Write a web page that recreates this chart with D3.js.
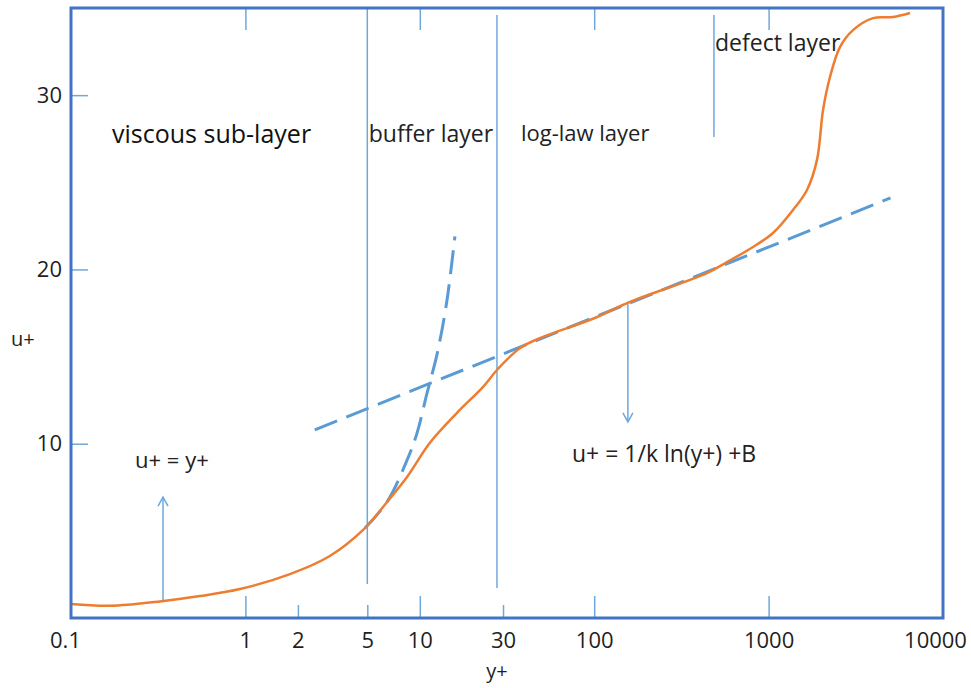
<!DOCTYPE html>
<html>
<head>
<meta charset="utf-8">
<script src="https://cdn.jsdelivr.net/npm/d3@7"></script>
<style>
    body { margin: 0; background: #fff; }
    #chart { width: 971px; height: 688px; }
    text { font-family: "Open Sans", sans-serif; }
</style>
</head>
<body>
<div id="chart"></div>
<script>

// measured velocity profile (y+, u+)
let profileYp = [0.1, 0.167, 0.324, 0.55, 0.93, 1.8, 3.05, 4.85, 6.49, 8.45, 11.4, 16.3, 23.0, 27.7, 37.6, 50,
    100, 160, 443, 577, 814, 1060, 1380, 1660, 1896, 2052, 2249, 2566, 3048, 3970, 5167, 6471];
let profileUp = [0.80, 0.70, 0.95, 1.26, 1.66, 2.52, 3.56, 5.16, 6.66, 8.09, 10.04, 11.76, 13.25, 14.23, 15.49, 16.1,
    17.2, 18.13, 19.79, 20.42, 21.29, 22.09, 23.41, 24.56, 26.3, 29.15, 31.04, 32.76, 33.73, 34.42, 34.48, 34.71];

// u+ = y+ (dashed)
let viscousYp = [4.85, 6.49, 8.45, 9.64, 11.0, 12.6, 14.3, 15.9];
let viscousUp = [5.16, 6.66, 9.06, 10.61, 12.9, 15.2, 18.2, 21.9];

// log law (dashed)
let logLawYp = [2.5, 5000];
let logLawUp = [10.8, 24.1];

// axes
let xTickValues = [0.1, 1, 2, 5, 10, 30, 100, 1000, 10000];
let xMajorTicks = [1, 10, 100, 1000];
let yTickValues = [10, 20, 30];

// layer boundaries: y+, u+ from, u+ to
let boundaries = [[5, 1.95, 35], [27.7, 1.72, 34.6], [486, 27.6, 34.6]];

// labels: text, y+, u+
let layerLabels = [["viscous sub-layer", 0.172, 27.25], ["buffer layer", 5.1, 27.3],
    ["log-law layer", 38, 27.37], ["defect layer", 493, 32.53]];
let formulaLabels = [["u+ = y+", 0.233, 8.6], ["u+ = 1/k ln(y+) +B", 74.6, 8.95]];

// arrows: y+, u+ start, u+ end
let arrows = [[0.337, 0.92, 6.94], [156, 18.1, 11.25]];


class WallLawChart {

    constructor(parentElement) {
        this.parentElement = parentElement;
        this.initVis();
    }

    initVis() {
        let vis = this;

        vis.margin = {top: 8, right: 28, bottom: 70, left: 71};
        vis.width = 971 - vis.margin.left - vis.margin.right;
        vis.height = 688 - vis.margin.top - vis.margin.bottom;

        vis.svg = d3.select("#" + vis.parentElement).append("svg")
            .attr("width", 971)
            .attr("height", 688)
            .append("g")
            .attr("transform", `translate(${vis.margin.left}, ${vis.margin.top})`);

        vis.x = d3.scaleLog()
            .domain([0.1, 10000])
            .range([0, vis.width]);
        vis.y = d3.scaleLinear()
            .domain([0, 35])
            .range([vis.height, 0]);

        vis.svg.append("defs").append("marker")
            .attr("id", "chevron")
            .attr("viewBox", "-11 -7 13 14")
            .attr("markerUnits", "userSpaceOnUse")
            .attr("markerWidth", 13)
            .attr("markerHeight", 14)
            .attr("refX", 0)
            .attr("refY", 0)
            .attr("orient", "auto")
            .append("path")
            .attr("d", "M-9,-5L0,0L-9,5")
            .attr("fill", "none")
            .attr("stroke", "#6fa8dc")
            .attr("stroke-width", 1.5);

        vis.updateVis();
    }

    updateVis() {
        let vis = this;
        let tickColor = "#6fa8dc";

        // bottom axis, ticks pointing inward
        let xAxis = d3.axisBottom(vis.x)
            .tickValues(xTickValues)
            .tickSize(-22)
            .tickPadding(14)
            .tickFormat(d => String(d));
        let xg = vis.svg.append("g")
            .attr("transform", `translate(0, ${vis.height})`)
            .call(xAxis);
        xg.select(".domain").remove();
        xg.selectAll(".tick line")
            .attr("stroke", tickColor)
            .attr("stroke-width", 1.5)
            .attr("y2", d => xMajorTicks.includes(d) ? -22 : (d === 0.1 || d === 10000 ? 0 : -13));
        xg.selectAll(".tick text")
            .attr("fill", "#1f1f1f")
            .attr("font-size", 22)
            .attr("dx", d => d === 0.1 ? -6 : (d === 10000 ? -8 : 0));

        // top ticks
        let xTop = vis.svg.append("g")
            .call(d3.axisTop(vis.x).tickValues(xMajorTicks).tickSize(-22).tickFormat(""));
        xTop.select(".domain").remove();
        xTop.selectAll(".tick line").attr("stroke", tickColor).attr("stroke-width", 1.5);

        // left axis
        let yg = vis.svg.append("g")
            .call(d3.axisLeft(vis.y).tickValues(yTickValues).tickSize(-17).tickPadding(9));
        yg.select(".domain").remove();
        yg.selectAll(".tick line").attr("stroke", tickColor).attr("stroke-width", 1.5);
        yg.selectAll(".tick text").attr("fill", "#1f1f1f").attr("font-size", 22);

        // axis titles
        vis.svg.append("text")
            .attr("x", vis.x(27.7))
            .attr("y", vis.height + 60)
            .attr("text-anchor", "middle")
            .attr("font-size", 20)
            .attr("fill", "#1f1f1f")
            .text("y+");
        vis.svg.append("text")
            .attr("x", -60)
            .attr("y", vis.y(15.6))
            .attr("font-size", 20)
            .attr("fill", "#1f1f1f")
            .text("u+");

        // layer boundaries
        vis.svg.selectAll(".boundary")
            .data(boundaries)
            .enter().append("line")
            .attr("class", "boundary")
            .attr("x1", d => vis.x(d[0]))
            .attr("x2", d => vis.x(d[0]))
            .attr("y1", d => vis.y(d[1]))
            .attr("y2", d => vis.y(d[2]))
            .attr("stroke", tickColor)
            .attr("stroke-width", 1.5);

        // arrows
        vis.svg.selectAll(".arrow")
            .data(arrows)
            .enter().append("line")
            .attr("class", "arrow")
            .attr("x1", d => vis.x(d[0]))
            .attr("x2", d => vis.x(d[0]))
            .attr("y1", d => vis.y(d[1]))
            .attr("y2", d => vis.y(d[2]))
            .attr("stroke", tickColor)
            .attr("stroke-width", 1.5)
            .attr("marker-end", "url(#chevron)");

        // dashed reference laws
        let dashed = d3.line()
            .x(d => vis.x(d[0]))
            .y(d => vis.y(d[1]))
            .curve(d3.curveCatmullRom);
        [d3.zip(viscousYp, viscousUp), d3.zip(logLawYp, logLawUp)].forEach(pts => {
            vis.svg.append("path")
                .datum(pts)
                .attr("d", dashed)
                .attr("fill", "none")
                .attr("stroke", "#5b9bd5")
                .attr("stroke-width", 3)
                .attr("stroke-dasharray", "24,10");
        });

        // velocity profile
        let profile = d3.line()
            .x(d => vis.x(d[0]))
            .y(d => vis.y(d[1]))
            .curve(d3.curveCatmullRom.alpha(0.5));
        vis.svg.append("path")
            .datum(d3.zip(profileYp, profileUp))
            .attr("d", profile)
            .attr("fill", "none")
            .attr("stroke", "#ed7d31")
            .attr("stroke-width", 2.5);

        // labels
        let sizes = [25, 23, 22, 23];
        vis.svg.selectAll(".layerLabel")
            .data(layerLabels)
            .enter().append("text")
            .attr("class", "layerLabel")
            .attr("x", d => vis.x(d[1]))
            .attr("y", d => vis.y(d[2]))
            .attr("font-size", (d, i) => sizes[i])
            .attr("fill", (d, i) => i === 0 ? "#111" : "#222")
            .text(d => d[0]);

        vis.svg.selectAll(".formulaLabel")
            .data(formulaLabels)
            .enter().append("text")
            .attr("class", "formulaLabel")
            .attr("x", d => vis.x(d[1]))
            .attr("y", d => vis.y(d[2]))
            .attr("font-size", (d, i) => i === 0 ? 22 : 23)
            .attr("fill", "#222")
            .text(d => d[0]);

        // frame
        vis.svg.append("rect")
            .attr("width", vis.width)
            .attr("height", vis.height)
            .attr("fill", "none")
            .attr("stroke", "#4472c4")
            .attr("stroke-width", 3);
    }
}

let wallChart = new WallLawChart("chart");

</script>
</body>
</html>
